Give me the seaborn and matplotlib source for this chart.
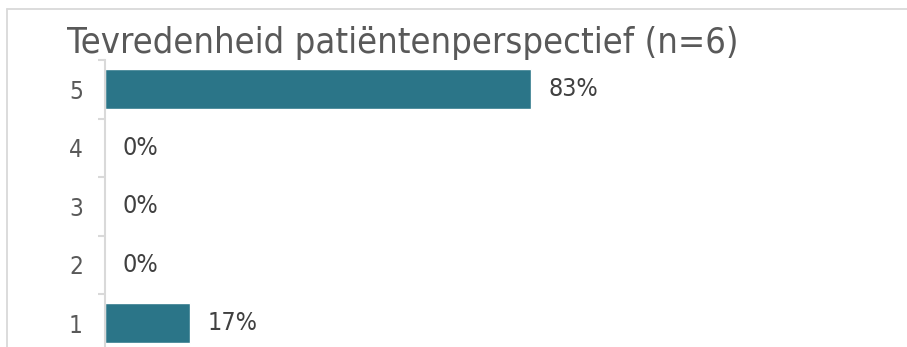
import numpy as np
import pandas as pd
import matplotlib
matplotlib.use("Agg")
import matplotlib.pyplot as plt
from matplotlib.lines import Line2D
from matplotlib.ticker import FixedLocator
import seaborn as sns

# Satisfaction scores (5 = best) and number of respondents per score
scores = ["5", "4", "3", "2", "1"]
counts = [5, 0, 0, 0, 1]
n_total = 6
title = "Tevredenheid patiëntenperspectief (n=6)"

bar_color = "#2B7588"
grid_gray = "#D9D9D9"
label_color = "#404040"
tick_color = "#595959"

df = pd.DataFrame({"score": scores, "count": counts})
df["pct"] = 100 * df["count"] / n_total

sns.set_theme(style="white")
plt.rcParams["font.family"] = ["DejaVu Sans"]

W, H, DPI = 907, 347, 100
fig = plt.figure(figsize=(W / DPI, H / DPI), dpi=DPI)

# axes placed in pixel terms; the bottom runs past the figure edge
ax_left, ax_top, band = 105, 60, 58.5
ax_w = 511
ax_h = band * len(scores)
ax = fig.add_axes([ax_left / W, (H - ax_top - ax_h) / H, ax_w / W, ax_h / H])

sns.barplot(data=df, x="pct", y="score", order=scores, orient="h",
            color=bar_color, width=0.684, saturation=1, ax=ax)
ax.set_xlim(0, 100)
ax.set_ylim(len(scores) - 0.5, -0.5)

for c in ax.containers:
    ax.bar_label(c, labels=[f"{v:.0f}%" for v in df["pct"]], padding=12.5,
                 fontsize=18, color=label_color, fontstretch="condensed")

ax.set_xlabel("")
ax.set_ylabel("")
ax.set_xticks([])
for side in ["top", "right", "bottom"]:
    ax.spines[side].set_visible(False)
ax.spines["left"].set_color(grid_gray)
ax.spines["left"].set_linewidth(1.5)

ax.tick_params(axis="y", which="major", left=True, length=0, pad=16,
               labelsize=17.5, labelcolor=tick_color)
for t in ax.get_yticklabels():
    t.set_fontstretch("condensed")
ax.yaxis.set_minor_locator(FixedLocator(np.arange(-0.5, len(scores), 1.0)))
ax.tick_params(axis="y", which="minor", left=True, length=5, width=1.5,
               color=grid_gray)

# chart card border
fig.add_artist(Line2D([6.5 / W, 1.0], [1 - 8.5 / H, 1 - 8.5 / H],
                      transform=fig.transFigure, color=grid_gray, lw=1.3))
fig.add_artist(Line2D([6.5 / W, 6.5 / W], [0, 1 - 8.5 / H],
                      transform=fig.transFigure, color=grid_gray, lw=1.3))

fig.text(67 / W, (H - 53) / H, title, ha="left", va="baseline",
         fontsize=26, color=tick_color, fontstretch="condensed")

fig.savefig("out.png", dpi=DPI, facecolor="white")
